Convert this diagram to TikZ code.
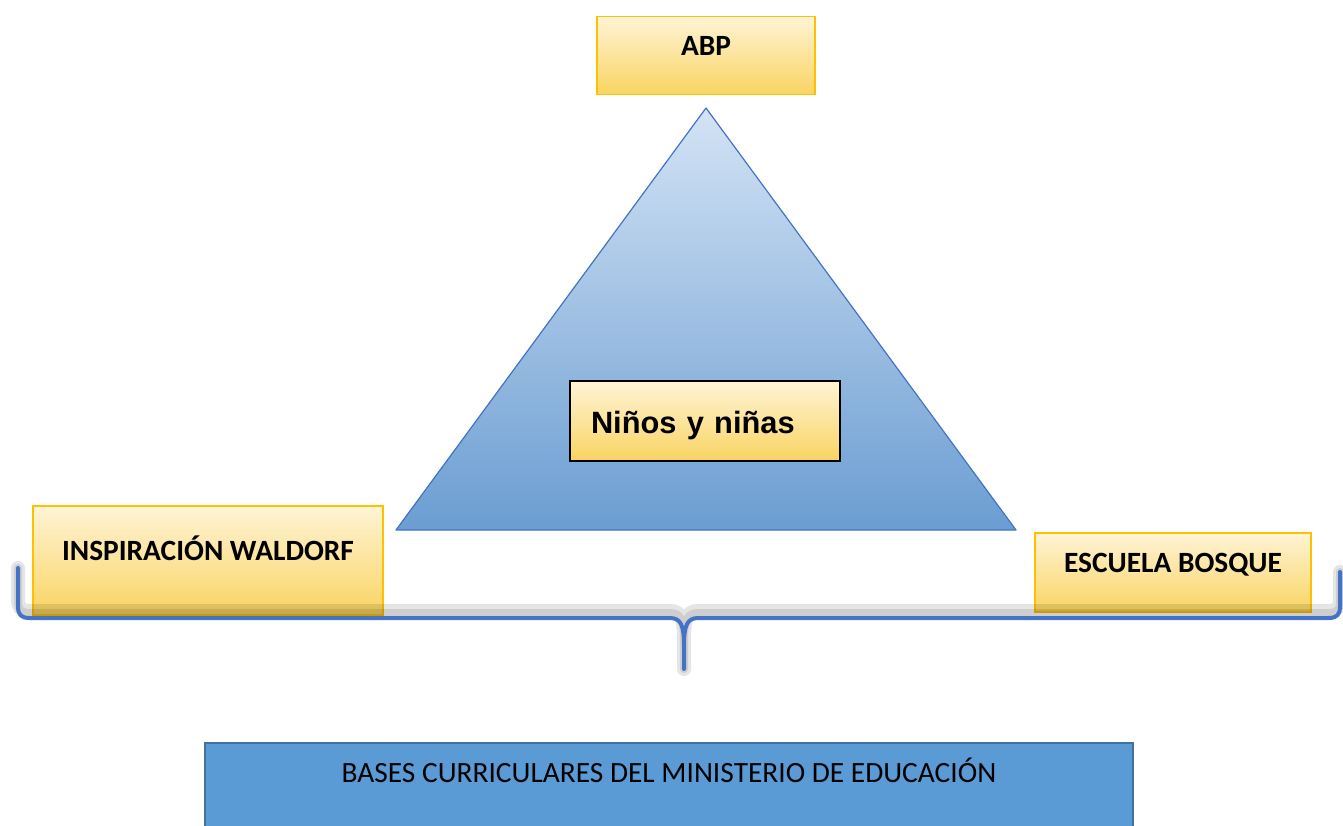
\documentclass[tikz,border=0pt]{standalone}
\usepackage{fontspec}
\setmainfont{Carlito}
\newfontfamily\arialfont{Liberation Sans}
\usetikzlibrary{positioning}

\definecolor{boxline}{HTML}{FFC000}
\definecolor{boxtop}{HTML}{FFF4D6}
\definecolor{boxbottom}{HTML}{F9D462}
\definecolor{tritop}{HTML}{D3E3F4}
\definecolor{tribottom}{HTML}{6B9DD2}
\definecolor{triline}{HTML}{4472C4}
\definecolor{basefill}{HTML}{5B9BD5}
\definecolor{baseborder}{HTML}{41719C}

\begin{document}
\begin{tikzpicture}
[x=0.5pt, y=-0.5pt,
% STYLES
% The method style is used for the yellow boxes around the triangle
method/.style={rectangle, draw=boxline, line width=0.75pt, top color=boxtop, bottom color=boxbottom, inner sep=0pt, text height=7pt, text depth=7pt, font=\bfseries\fontsize{14.7}{17}\selectfont},
% The kids style is used for the box inside the triangle
kids/.style={rectangle, draw=black, line width=0.75pt, top color=boxtop, bottom color=boxbottom, minimum width=135pt, minimum height=40pt, inner xsep=10.5pt, inner ysep=0pt, text width=114pt, align=left, text height=12pt, text depth=0pt, font=\arialfont\bfseries\fontsize{15.4}{18}\selectfont},
% The base style is used for the box under the bracket
base/.style={rectangle, draw=baseborder, line width=0.75pt, fill=basefill, minimum width=464pt, inner ysep=11pt, text height=9pt, text depth=50pt, font=\fontsize{14.7}{17}\selectfont},
% The brace styles are used for the bracket and its shadow
brace/.style={draw=triline, line width=2pt, line cap=round, line join=round},
braceshadow/.style={draw=black, opacity=0.1, line cap=round, line join=round}]

\clip (0,0) rectangle (1343,825);

% Draw the triangle
\coordinate (apex) at (706,108);
\coordinate (left corner) at (396,530);
\coordinate (right corner) at (1016,530);
\shade [top color=tritop, bottom color=tribottom] (apex) -- (left corner) -- (right corner) -- cycle;
\draw [triline, line width=0.6pt, line join=round] (apex) -- (left corner) -- (right corner) -- cycle;

% Draw the boxes
\node [method, minimum width=109pt, minimum height=39pt, above=6.5pt of apex] (abp) {ABP};
\node [kids] (kids) at (705,421) {Niños y niñas};
\node [method, minimum width=175pt, minimum height=54.5pt] (waldorf) at (208,560.5) {INSPIRACIÓN WALDORF};
\node [method, minimum width=138pt, minimum height=39.5pt] (bosque) at (1173,572.5) {ESCUELA BOSQUE};

% Draw the bracket
\coordinate (brace left) at (18,568);
\coordinate (brace tip) at (684,669);
\coordinate (brace right) at (1340,572);
\path [braceshadow, line width=7pt, shift={(0,-7)}]
    (brace left) -- (18,606) .. controls (18,615) and (21,618) .. (30,618) -- (670,618) .. controls (681,618) and (684,626) .. (684,645) -- (brace tip)
    (brace tip) -- (684,645) .. controls (684,626) and (687,618) .. (698,618) -- (1328,618) .. controls (1337,618) and (1340,615) .. (1340,606) -- (brace right);
\path [braceshadow, line width=4pt, shift={(0,-5)}]
    (brace left) -- (18,606) .. controls (18,615) and (21,618) .. (30,618) -- (670,618) .. controls (681,618) and (684,626) .. (684,645) -- (brace tip)
    (brace tip) -- (684,645) .. controls (684,626) and (687,618) .. (698,618) -- (1328,618) .. controls (1337,618) and (1340,615) .. (1340,606) -- (brace right);
\path [brace]
    (brace left) -- (18,606) .. controls (18,615) and (21,618) .. (30,618) -- (670,618) .. controls (681,618) and (684,626) .. (684,645) -- (brace tip)
    (brace tip) -- (684,645) .. controls (684,626) and (687,618) .. (698,618) -- (1328,618) .. controls (1337,618) and (1340,615) .. (1340,606) -- (brace right);

% Draw the base
\node [base, anchor=north] (bases) at (669,742) {BASES CURRICULARES DEL MINISTERIO DE EDUCACIÓN};

\end{tikzpicture}
\end{document}
